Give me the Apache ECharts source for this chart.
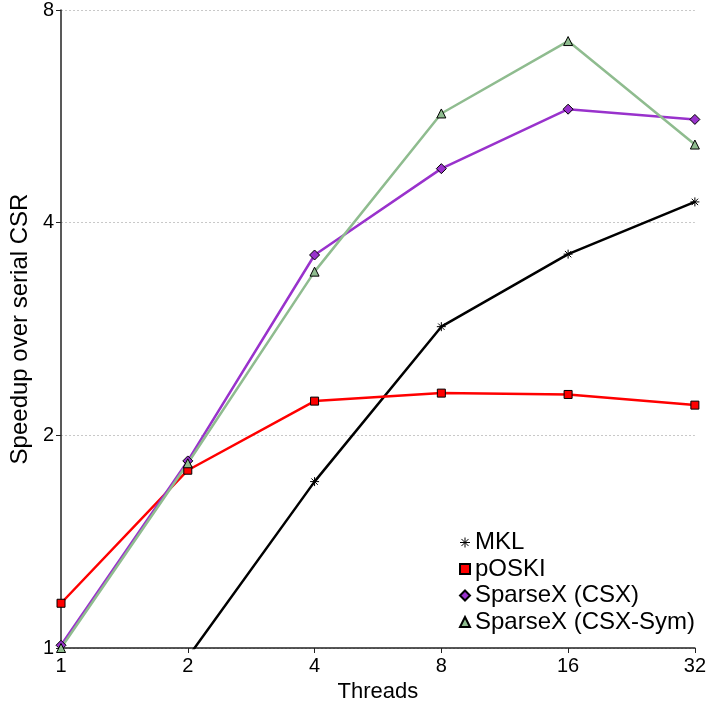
<!DOCTYPE html>
<html>
<head>
<meta charset="utf-8">
<script src="https://cdn.jsdelivr.net/npm/echarts@6/dist/echarts.min.js"></script>
<style>
  html, body { margin: 0; padding: 0; background: #ffffff; }
  #chart { width: 709px; height: 708px; }
</style>
</head>
<body>
<div id="chart"></div>
<script>
// Thread counts (x) and speedups over serial CSR (y, log2 scale)
const threads = [1, 2, 4, 8, 16, 32];
const yTicks = [1, 2, 4, 8];
const seriesNames = ['MKL', 'pOSKI', 'SparseX (CSX)', 'SparseX (CSX-Sym)'];
const mkl = [0.55, 0.97, 1.72, 2.85, 3.61, 4.28];
const poski = [1.157, 1.785, 2.236, 2.295, 2.285, 2.207];
const csx = [1.009, 1.84, 3.60, 4.77, 5.79, 5.60];
const csxSym = [1.0, 1.826, 3.41, 5.71, 7.23, 5.16];

const FONT = "'Liberation Sans', Arial, Helvetica, sans-serif";
// Asterisk marker: vertical, horizontal and two diagonal strokes
const STAR = 'path://M0,-10L0,10M-10,0L10,0M-7.1,-7.1L7.1,7.1M-7.1,7.1L7.1,-7.1';

function pairs(vals) {
  return threads.map((t, i) => [t, vals[i]]);
}

function lineSeries(name, vals, color, symbol, size, fill) {
  return {
    name: name,
    type: 'line',
    data: pairs(vals),
    clip: true,
    symbol: symbol,
    symbolSize: size,
    showSymbol: true,
    lineStyle: { color: color, width: 2.5 },
    itemStyle: {
      color: fill,
      borderColor: '#000000',
      borderWidth: 1
    },
    emphasis: { disabled: true },
    animation: false
  };
}

const chart = echarts.init(document.getElementById('chart'), null, { renderer: 'canvas' });

chart.setOption({
  backgroundColor: '#ffffff',
  animation: false,
  textStyle: { fontFamily: FONT },
  grid: { left: 60, right: 14, top: 7.5, bottom: 60, containLabel: false },
  xAxis: {
    type: 'log',
    logBase: 2,
    min: 1,
    max: 32,
    name: 'Threads',
    nameLocation: 'middle',
    nameGap: 29,
    nameTextStyle: { fontSize: 22, color: '#000000', fontFamily: FONT },
    axisLine: { show: true, lineStyle: { color: '#222222', width: 1.5 } },
    axisTick: { show: true, inside: false, length: 5, lineStyle: { color: '#222222', width: 1 } },
    axisLabel: {
      fontSize: 20, color: '#000000', fontFamily: FONT, margin: 8,
      formatter: v => String(Math.round(v))
    },
    splitLine: { show: false }
  },
  yAxis: {
    type: 'log',
    logBase: 2,
    min: yTicks[0],
    max: yTicks[yTicks.length - 1],
    name: 'Speedup over serial CSR',
    nameLocation: 'middle',
    nameGap: 25,
    nameRotate: 90,
    nameTextStyle: { fontSize: 24, color: '#000000', fontFamily: FONT },
    axisLine: { show: true, lineStyle: { color: '#222222', width: 1.5 } },
    axisTick: { show: true, inside: false, length: 5, lineStyle: { color: '#222222', width: 1 } },
    axisLabel: {
      fontSize: 20, color: '#000000', fontFamily: FONT, margin: 7,
      formatter: v => String(Math.round(v))
    },
    splitLine: { show: true, lineStyle: { color: '#c8c8c8', width: 1, type: [2, 2] } }
  },
  legend: {
    orient: 'vertical',
    left: 459,
    top: 530.5,
    padding: 0,
    itemWidth: 10,
    itemHeight: 10,
    itemGap: 2.5,
    selectedMode: false,
    textStyle: { fontSize: 24, color: '#000000', fontFamily: FONT, lineHeight: 22 },
    data: [
      { name: seriesNames[0], icon: STAR, itemStyle: { color: '#000000', borderColor: '#000000', borderWidth: 1 } },
      { name: seriesNames[1], icon: 'rect' },
      { name: seriesNames[2], icon: 'diamond' },
      { name: seriesNames[3], icon: 'triangle' }
    ]
  },
  series: [
    lineSeries(seriesNames[0], mkl, '#000000', STAR, 9, '#000000'),
    lineSeries(seriesNames[1], poski, '#ff0000', 'rect', 8, '#ff0000'),
    lineSeries(seriesNames[2], csx, '#9932cc', 'diamond', 10, '#9932cc'),
    lineSeries(seriesNames[3], csxSym, '#8fbc8f', 'triangle', 9, '#8fbc8f')
  ]
});
</script>
</body>
</html>
